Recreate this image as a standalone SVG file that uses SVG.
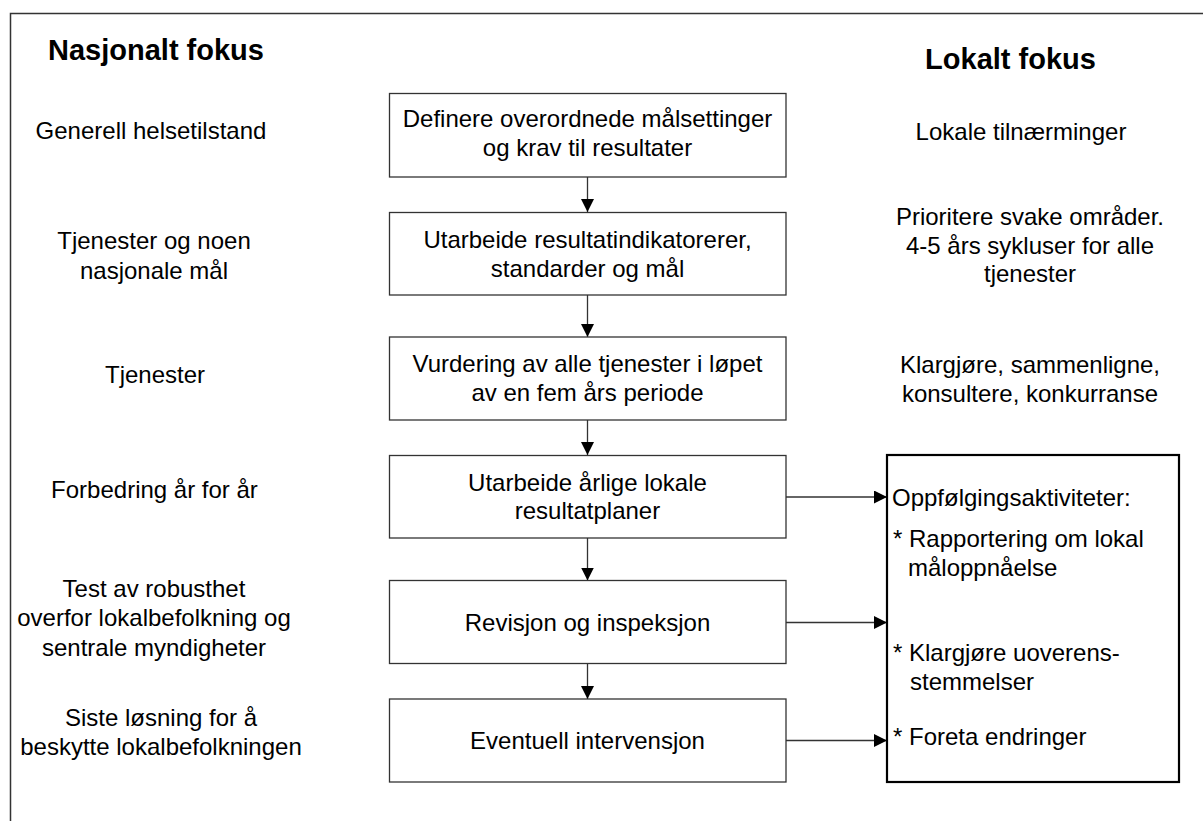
<svg xmlns="http://www.w3.org/2000/svg" width="1203" height="821" viewBox="0 0 1203 821">
<style>
text{font-family:"Liberation Sans",Arial,sans-serif;font-size:24px;fill:#000}
.h{font-weight:bold;font-size:29px}
.m{text-anchor:middle}
.box{fill:#fff;stroke:#333;stroke-width:1.3}
.big{fill:#fff;stroke:#000;stroke-width:2.2}
.frame{fill:none;stroke:#333;stroke-width:1.5}
.con{fill:none;stroke:#333;stroke-width:1.3}
</style>
<defs>
<marker id="ah" markerUnits="userSpaceOnUse" markerWidth="13" markerHeight="13" viewBox="0 0 13 13" refX="13" refY="6.5" orient="auto">
<path d="M0,0 L13,6.5 L0,13 Z" fill="#000"/>
</marker>
</defs>
<rect width="1203" height="821" fill="#fff"/>
<path class="frame" d="M10.5,821 V13.5 H1203"/>

<g id="headings">
<text class="h m" x="156" y="60">Nasjonalt fokus</text>
<text class="h m" x="1010.5" y="69">Lokalt fokus</text>
</g>

<g id="national">
<text class="m" x="151" y="139">Generell helsetilstand</text>
<text class="m" x="154" y="249">Tjenester og noen</text>
<text class="m" x="154" y="278.5">nasjonale mål</text>
<text class="m" x="155" y="382.5">Tjenester</text>
<text class="m" x="154.5" y="497.5">Forbedring år for år</text>
<text class="m" x="154" y="596.5">Test av robusthet</text>
<text class="m" x="154" y="626">overfor lokalbefolkning og</text>
<text class="m" x="154" y="655.5">sentrale myndigheter</text>
<text class="m" x="161" y="725.5">Siste løsning for å</text>
<text class="m" x="161" y="755">beskytte lokalbefolkningen</text>
</g>

<g id="local">
<text class="m" x="1021" y="140">Lokale tilnærminger</text>
<text class="m" x="1030" y="225">Prioritere svake områder.</text>
<text class="m" x="1030" y="253.5">4-5 års sykluser for alle</text>
<text class="m" x="1030" y="282">tjenester</text>
<text class="m" x="1030" y="373">Klargjøre, sammenligne,</text>
<text class="m" x="1030" y="401.5">konsultere, konkurranse</text>
</g>

<g id="connectors">
<line class="con" x1="587.5" y1="177" x2="587.5" y2="212" marker-end="url(#ah)"/>
<line class="con" x1="587.5" y1="295" x2="587.5" y2="337" marker-end="url(#ah)"/>
<line class="con" x1="587.5" y1="420" x2="587.5" y2="455" marker-end="url(#ah)"/>
<line class="con" x1="587.5" y1="538" x2="587.5" y2="580.5" marker-end="url(#ah)"/>
<line class="con" x1="587.5" y1="663.5" x2="587.5" y2="699" marker-end="url(#ah)"/>
<line class="con" x1="786" y1="497" x2="887" y2="497" marker-end="url(#ah)"/>
<line class="con" x1="786" y1="622.5" x2="887" y2="622.5" marker-end="url(#ah)"/>
<line class="con" x1="786" y1="740.5" x2="887" y2="740.5" marker-end="url(#ah)"/>
</g>

<g id="n1">
<rect class="box" x="389.5" y="93.5" width="396.5" height="83.5"/>
<text class="m" x="587.5" y="127">Definere overordnede målsettinger</text>
<text class="m" x="587.5" y="156">og krav til resultater</text>
</g>
<g id="n2">
<rect class="box" x="389.5" y="212.5" width="396.5" height="82.5"/>
<text class="m" x="587.5" y="248">Utarbeide resultatindikatorerer,</text>
<text class="m" x="587.5" y="277">standarder og mål</text>
</g>
<g id="n3">
<rect class="box" x="389.5" y="337" width="396.5" height="83"/>
<text class="m" x="587.5" y="372">Vurdering av alle tjenester i løpet</text>
<text class="m" x="587.5" y="401">av en fem års periode</text>
</g>
<g id="n4">
<rect class="box" x="389.5" y="455.5" width="396.5" height="82.5"/>
<text class="m" x="587.5" y="490.5">Utarbeide årlige lokale</text>
<text class="m" x="587.5" y="519">resultatplaner</text>
</g>
<g id="n5">
<rect class="box" x="389.5" y="580.5" width="396.5" height="83"/>
<text class="m" x="587.5" y="630.5">Revisjon og inspeksjon</text>
</g>
<g id="n6">
<rect class="box" x="389.5" y="699" width="396.5" height="83"/>
<text class="m" x="587.5" y="749">Eventuell intervensjon</text>
</g>

<g id="followup">
<rect class="big" x="887" y="455" width="292" height="327"/>
<text x="892" y="506">Oppfølgingsaktiviteter:</text>
<text x="893" y="547">* Rapportering om lokal</text>
<text x="908" y="576">måloppnåelse</text>
<text x="893" y="661">* Klargjøre uoverens-</text>
<text x="910" y="690">stemmelser</text>
<text x="893" y="745">* Foreta endringer</text>
</g>
</svg>
